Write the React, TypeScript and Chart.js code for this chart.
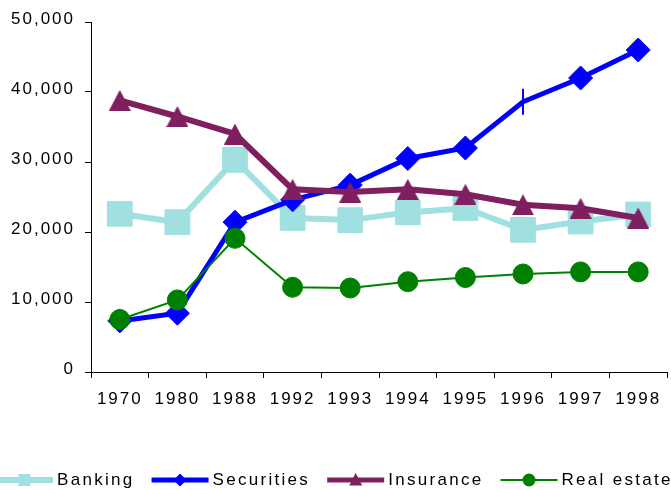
import React, { useEffect, useRef } from 'react';
import { Chart, registerables } from 'chart.js';

Chart.register(...registerables);

// ---- data ----
const years = ['1970', '1980', '1988', '1992', '1993', '1994', '1995', '1996', '1997', '1998'];
const banking = [22600, 21400, 30300, 22000, 21700, 22800, 23400, 20300, 21500, 22500];
const securities = [7300, 8400, 21400, 24600, 26700, 30500, 32000, 38600, 42000, 46000];
const insurance = [38800, 36500, 34000, 26100, 25700, 26100, 25400, 23900, 23400, 22000];
const realEstate = [7500, 10300, 19100, 12100, 12000, 12900, 13500, 14000, 14300, 14300];
const seriesNames = ['Banking', 'Securities', 'Insurance', 'Real estate'];
const yTicks = [0, 10000, 20000, 30000, 40000, 50000];
const securitiesDashYear = '1996'; // this point shows a vertical tick instead of a diamond

// ---- styles ----
const COLORS = ['#a0e0e0', '#0000ff', '#7f1f5f', '#008000'];
const FAMILY = '"Liberation Sans", Arial, sans-serif';

function makeTriangle(w: number, h: number, color: string) {
  const c = document.createElement('canvas');
  c.width = w;
  c.height = h;
  const g = c.getContext('2d')!;
  g.fillStyle = color;
  g.beginPath();
  g.moveTo(w / 2, 0);
  g.lineTo(w, h);
  g.lineTo(0, h);
  g.closePath();
  g.fill();
  return c;
}

const letterSpacingPlugin = {
  id: 'letterSpacing',
  beforeDraw(chart: any) {
    chart.ctx.letterSpacing = '2px';
  },
  afterDraw(chart: any) {
    chart.ctx.letterSpacing = '0px';
  },
};

const legendPlugin = {
  id: 'customLegend',
  afterDraw(chart: any) {
    const ctx: CanvasRenderingContext2D = chart.ctx;
    ctx.save();
    const y = 480;
    const lineLen = 57;
    const spacing = 2.3;
    let x = -4;
    ctx.font = `17px ${FAMILY}`;
    const lineWidths = [6, 5, 5, 2];
    seriesNames.forEach((name, i) => {
      const color = COLORS[i];
      ctx.letterSpacing = '0px';
      ctx.strokeStyle = color;
      ctx.lineWidth = lineWidths[i];
      ctx.beginPath();
      ctx.moveTo(x, y);
      ctx.lineTo(x + lineLen, y);
      ctx.stroke();
      const cx = x + lineLen / 2;
      ctx.fillStyle = color;
      ctx.beginPath();
      if (i === 0) {
        ctx.rect(cx - 6, y - 6, 12, 12);
      } else if (i === 1) {
        ctx.moveTo(cx - 6.5, y);
        ctx.lineTo(cx, y - 6.5);
        ctx.lineTo(cx + 6.5, y);
        ctx.lineTo(cx, y + 6.5);
        ctx.closePath();
      } else if (i === 2) {
        ctx.moveTo(cx, y - 7);
        ctx.lineTo(cx + 6.5, y + 5.5);
        ctx.lineTo(cx - 6.5, y + 5.5);
        ctx.closePath();
      } else {
        ctx.arc(cx, y, 6.5, 0, Math.PI * 2);
      }
      ctx.fill();
      x += lineLen + 4;
      const w = ctx.measureText(name).width + name.length * spacing;
      ctx.fillStyle = '#000';
      ctx.textAlign = 'left';
      ctx.textBaseline = 'alphabetic';
      ctx.letterSpacing = `${spacing}px`;
      ctx.fillText(name, x, 485);
      ctx.letterSpacing = '0px';
      x += w + 17;
    });
    ctx.restore();
  },
};

export default function App() {
  const ref = useRef<HTMLCanvasElement>(null);

  useEffect(() => {
    if (!ref.current) return;
    const tri = makeTriangle(22, 21, COLORS[2]);
    const dashIdx = years.indexOf(securitiesDashYear);
    const chart = new Chart(ref.current, {
      type: 'line',
      data: {
        labels: years,
        datasets: [
          {
            label: seriesNames[0],
            data: banking,
            borderColor: COLORS[0],
            backgroundColor: COLORS[0],
            borderWidth: 6,
            pointStyle: 'rect',
            pointRadius: 17.5,
            pointBorderWidth: 1,
            pointBackgroundColor: COLORS[0],
            pointBorderColor: COLORS[0],
            tension: 0,
            order: 3,
            clip: 30,
          },
          {
            label: seriesNames[1],
            data: securities,
            borderColor: COLORS[1],
            backgroundColor: COLORS[1],
            borderWidth: 5,
            pointStyle: (c: any) => (c.dataIndex === dashIdx ? 'line' : 'rectRot'),
            pointRotation: (c: any) => (c.dataIndex === dashIdx ? 90 : 0),
            pointRadius: (c: any) => (c.dataIndex === dashIdx ? 13 : 12),
            pointBorderWidth: (c: any) => (c.dataIndex === dashIdx ? 2 : 1),
            pointBackgroundColor: COLORS[1],
            pointBorderColor: COLORS[1],
            tension: 0,
            order: 2,
            clip: 30,
          },
          {
            label: seriesNames[2],
            data: insurance,
            borderColor: COLORS[2],
            backgroundColor: COLORS[2],
            borderWidth: 6,
            pointStyle: tri as any,
            pointRadius: 11,
            tension: 0,
            order: 1,
            clip: 30,
          },
          {
            label: seriesNames[3],
            data: realEstate,
            borderColor: COLORS[3],
            backgroundColor: COLORS[3],
            borderWidth: 2,
            pointStyle: 'circle',
            pointRadius: 10,
            pointBorderWidth: 1,
            pointBackgroundColor: COLORS[3],
            pointBorderColor: COLORS[3],
            tension: 0,
            order: 0,
            clip: 30,
          },
        ],
      } as any,
      options: {
        animation: false,
        responsive: false,
        devicePixelRatio: 1,
        layout: { autoPadding: false, padding: { top: 22, right: 4, left: 0, bottom: 0 } },
        plugins: { legend: { display: false }, tooltip: { enabled: false } },
        scales: {
          x: {
            type: 'category',
            offset: true,
            grid: {
              display: true,
              drawOnChartArea: false,
              drawTicks: true,
              tickLength: 6,
              tickColor: '#000',
              tickWidth: 1,
              offset: true,
            },
            border: { display: true, color: '#000', width: 1 },
            ticks: {
              color: '#000',
              font: { size: 17, family: FAMILY },
              padding: 11,
              maxRotation: 0,
              autoSkip: false,
            },
            afterFit: (s: any) => {
              s.height = 118;
              s.paddingLeft = 0;
              s.paddingRight = 0;
            },
          },
          y: {
            min: yTicks[0],
            max: yTicks[yTicks.length - 1],
            grid: {
              display: true,
              drawOnChartArea: false,
              drawTicks: true,
              tickLength: 6,
              tickColor: '#000',
              tickWidth: 1,
            },
            border: { display: true, color: '#000', width: 1 },
            ticks: {
              color: '#000',
              font: { size: 17, family: FAMILY },
              padding: 10,
              labelOffset: -3,
              callback: (v: any) => Number(v).toLocaleString('en-US'),
            },
            afterBuildTicks: (s: any) => {
              s.ticks = yTicks.map((v) => ({ value: v }));
            },
            afterFit: (s: any) => {
              s.width = 91;
              s.paddingTop = 0;
              s.paddingBottom = 0;
            },
          },
        },
      } as any,
      plugins: [letterSpacingPlugin, legendPlugin],
    });
    return () => chart.destroy();
  }, []);

  return (
    <div style={{ position: 'fixed', left: 0, top: 0, width: 671, height: 490, background: '#fff' }}>
      <canvas ref={ref} width={671} height={490} style={{ display: 'block', width: 671, height: 490 }} />
    </div>
  );
}
